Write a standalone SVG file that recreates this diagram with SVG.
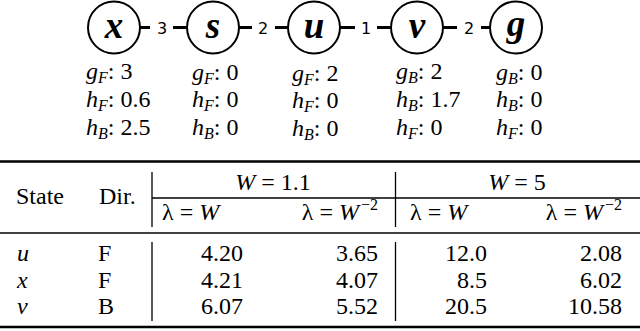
<svg xmlns="http://www.w3.org/2000/svg" width="640" height="331" viewBox="0 0 640 331">
<style>
.node circle{fill:#fff;stroke:#000;stroke-width:2}
.nl{font-family:'Liberation Serif','DejaVu Serif',serif;font-weight:bold;font-style:italic;font-size:37px;text-anchor:middle}
.edge line{stroke:#000;stroke-width:3}
.el{font-family:'DejaVu Sans',sans-serif;font-size:16px;text-anchor:middle}
.an{font-family:'Liberation Serif','DejaVu Serif',serif;font-size:24px}
.it{font-style:italic}
.sub{font-style:italic;font-size:16px}
.tb{font-family:'Liberation Serif','DejaVu Serif',serif;font-size:24px}
.rule{stroke:#000}
.e{text-anchor:end}
.m{text-anchor:middle}
</style>
<g id="connectors" class="edge">
<line x1="140" y1="27.5" x2="150" y2="27.5"/><line x1="173" y1="27.5" x2="187" y2="27.5"/>
<line x1="239" y1="27.5" x2="252" y2="27.5"/><line x1="275" y1="27.5" x2="288" y2="27.5"/>
<line x1="340" y1="27.5" x2="355" y2="27.5"/><line x1="377" y1="27.5" x2="391" y2="27.5"/>
<line x1="443" y1="27.5" x2="457" y2="27.5"/><line x1="481" y1="27.5" x2="491" y2="27.5"/>
<text class="el" x="162" y="33.5">3</text>
<text class="el" x="263" y="33.5">2</text>
<text class="el" x="366" y="33.5">1</text>
<text class="el" x="469" y="33.5">2</text>
</g>
<g id="node-x" class="node"><circle cx="114" cy="27.5" r="26"/><text class="nl" x="114" y="38">x</text>
<text class="an" x="86" y="79"><tspan class="it">g</tspan><tspan class="sub" dy="4">F</tspan><tspan dy="-4">: 3</tspan></text>
<text class="an" x="86" y="107"><tspan class="it">h</tspan><tspan class="sub" dy="4">F</tspan><tspan dy="-4">: 0.6</tspan></text>
<text class="an" x="86" y="135"><tspan class="it">h</tspan><tspan class="sub" dy="4">B</tspan><tspan dy="-4">: 2.5</tspan></text>
</g>
<g id="node-s" class="node"><circle cx="213" cy="27.5" r="26"/><text class="nl" x="213" y="38">s</text>
<text class="an" x="192" y="80"><tspan class="it">g</tspan><tspan class="sub" dy="4">F</tspan><tspan dy="-4">: 0</tspan></text>
<text class="an" x="192" y="107"><tspan class="it">h</tspan><tspan class="sub" dy="4">F</tspan><tspan dy="-4">: 0</tspan></text>
<text class="an" x="192" y="135"><tspan class="it">h</tspan><tspan class="sub" dy="4">B</tspan><tspan dy="-4">: 0</tspan></text>
</g>
<g id="node-u" class="node"><circle cx="314" cy="27.5" r="26"/><text class="nl" x="314" y="38">u</text>
<text class="an" x="292" y="81"><tspan class="it">g</tspan><tspan class="sub" dy="4">F</tspan><tspan dy="-4">: 2</tspan></text>
<text class="an" x="292" y="108"><tspan class="it">h</tspan><tspan class="sub" dy="4">F</tspan><tspan dy="-4">: 0</tspan></text>
<text class="an" x="292" y="136"><tspan class="it">h</tspan><tspan class="sub" dy="4">B</tspan><tspan dy="-4">: 0</tspan></text>
</g>
<g id="node-v" class="node"><circle cx="417" cy="27.5" r="26"/><text class="nl" x="417" y="38">v</text>
<text class="an" x="396" y="79"><tspan class="it">g</tspan><tspan class="sub" dy="4">B</tspan><tspan dy="-4">: 2</tspan></text>
<text class="an" x="396" y="107"><tspan class="it">h</tspan><tspan class="sub" dy="4">B</tspan><tspan dy="-4">: 1.7</tspan></text>
<text class="an" x="396" y="135"><tspan class="it">h</tspan><tspan class="sub" dy="4">F</tspan><tspan dy="-4">: 0</tspan></text>
</g>
<g id="node-g" class="node"><circle cx="516" cy="27.5" r="26"/><text class="nl" x="516" y="36">g</text>
<text class="an" x="496" y="80"><tspan class="it">g</tspan><tspan class="sub" dy="4">B</tspan><tspan dy="-4">: 0</tspan></text>
<text class="an" x="496" y="107"><tspan class="it">h</tspan><tspan class="sub" dy="4">B</tspan><tspan dy="-4">: 0</tspan></text>
<text class="an" x="496" y="135"><tspan class="it">h</tspan><tspan class="sub" dy="4">F</tspan><tspan dy="-4">: 0</tspan></text>
</g>
<g id="table">
<line class="rule" x1="0" y1="161.5" x2="640" y2="161.5" stroke-width="2.5"/>
<line class="rule" x1="152" y1="198" x2="640" y2="198" stroke-width="1.3"/>
<line class="rule" x1="0" y1="233" x2="640" y2="233" stroke-width="1.5"/>
<line class="rule" x1="0" y1="327" x2="640" y2="327" stroke-width="2.5"/>
<line class="rule" x1="152" y1="172" x2="152" y2="227" stroke-width="1.3"/>
<line class="rule" x1="395.5" y1="172" x2="395.5" y2="227" stroke-width="1.3"/>
<line class="rule" x1="152" y1="242" x2="152" y2="321" stroke-width="1.3"/>
<line class="rule" x1="395.5" y1="242" x2="395.5" y2="321" stroke-width="1.3"/>
<text class="tb" x="16" y="204">State</text>
<text class="tb" x="99" y="204">Dir.</text>
<text class="tb m" x="273" y="190"><tspan class="it">W</tspan> = 1.1</text>
<text class="tb m" x="517" y="190"><tspan class="it">W</tspan> = 5</text>
<text class="tb" x="162" y="220">λ = <tspan class="it">W</tspan></text>
<text class="tb e" x="378" y="220">λ = <tspan class="it">W</tspan><tspan font-size="16" dx="2" dy="-10">−2</tspan></text>
<text class="tb" x="410" y="220">λ = <tspan class="it">W</tspan></text>
<text class="tb e" x="622" y="220">λ = <tspan class="it">W</tspan><tspan font-size="16" dx="2" dy="-10">−2</tspan></text>
<text class="tb it" x="17" y="261">u</text>
<text class="tb it" x="17" y="288">x</text>
<text class="tb it" x="17" y="314">v</text>
<text class="tb" x="98" y="261">F</text>
<text class="tb" x="98" y="288">F</text>
<text class="tb" x="98" y="314">B</text>
<text class="tb e" x="243" y="261">4.20</text>
<text class="tb e" x="243" y="288">4.21</text>
<text class="tb e" x="243" y="314">6.07</text>
<text class="tb e" x="378" y="261">3.65</text>
<text class="tb e" x="378" y="288">4.07</text>
<text class="tb e" x="378" y="314">5.52</text>
<text class="tb e" x="487" y="261">12.0</text>
<text class="tb e" x="487" y="288">8.5</text>
<text class="tb e" x="487" y="314">20.5</text>
<text class="tb e" x="622" y="261">2.08</text>
<text class="tb e" x="622" y="288">6.02</text>
<text class="tb e" x="622" y="314">10.58</text>
</g>
</svg>
